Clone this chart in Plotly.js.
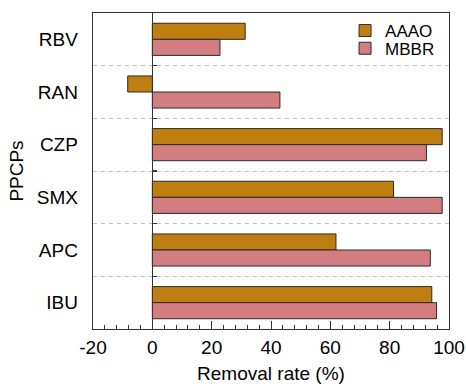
<!DOCTYPE html>
<html><head><meta charset="utf-8">
<script src="https://cdn.plot.ly/plotly-3.0.1.min.js"></script>
<style>html,body{margin:0;padding:0;background:#fff}#chart{width:466px;height:384px}</style>
</head><body><div id="chart"></div>
<script>
const categories = ["RBV", "RAN", "CZP", "SMX", "APC", "IBU"];
const aaao = [31.3, -8.3, 97.7, 81.3, 61.9, 94.2];
const mbbr = [22.8, 43.0, 92.4, 97.7, 93.7, 95.8];
const seriesNames = ["AAAO", "MBBR"];
const boundaryTicks = [0.5, 1.5, 2.5, 3.5, 4.5];
const xTickVals = [-20, 0, 20, 40, 60, 80, 100];
const xTickText = ["-20", "0", "20", "40", "60", "80", "100"];

const font = "Liberation Sans, Arial, sans-serif";
const traces = [
  {type: "bar", orientation: "h", name: seriesNames[0], x: aaao, y: categories, legend: "legend",
   marker: {color: "#bf7f10", line: {color: "#2a2a2a", width: 1}}, hoverinfo: "x+y"},
  {type: "bar", orientation: "h", name: seriesNames[1], x: mbbr, y: categories, legend: "legend2",
   marker: {color: "#d47d80", line: {color: "#2a2a2a", width: 1}}, hoverinfo: "x+y"},
  {type: "scatter", x: [null], y: [null], yaxis: "y2", showlegend: false, hoverinfo: "skip"}
];
const legendCommon = {xanchor: "left", yanchor: "top", bgcolor: "rgba(0,0,0,0)",
                      font: {size: 17, family: font}};
const layout = {
  width: 466, height: 384,
  margin: {l: 93, r: 17, t: 13, b: 55},
  paper_bgcolor: "#fff", plot_bgcolor: "#fff",
  font: {family: font, color: "#000", size: 19},
  barmode: "group", bargap: 0.39, bargroupgap: 0,
  showlegend: true,
  legend: Object.assign({x: 0.708, y: 1.0}, legendCommon),
  legend2: Object.assign({x: 0.708, y: 0.944}, legendCommon),
  xaxis: {range: [-20, 100], tickvals: xTickVals, ticktext: xTickText, ticks: "inside", ticklen: 8, tickwidth: 1,
          tickcolor: "#333", showline: true, linecolor: "#333", linewidth: 1.3, mirror: true,
          showgrid: false, zeroline: true, zerolinecolor: "#333", zerolinewidth: 1,
          tickfont: {size: 19}, ticklabelstandoff: 1,
          minor: {dtick: 4, tick0: 0, ticks: "inside", ticklen: 4, tickcolor: "#333", showgrid: false},
          title: {text: "Removal rate (%)", font: {size: 19}, standoff: 10}},
  yaxis: {type: "category", categoryorder: "array", categoryarray: categories,
          range: [5.5, -0.5], showline: true, linecolor: "#333", linewidth: 1.3, mirror: true,
          showgrid: false, ticks: "", tickfont: {size: 19}, ticklabelstandoff: 10,
          title: {text: "PPCPs", font: {size: 19}, standoff: 8}},
  yaxis2: {overlaying: "y", anchor: "free", side: "left", position: 20/120,
           range: [5.5, -0.5], tickvals: boundaryTicks, showticklabels: false,
           ticks: "inside", ticklen: 4, tickcolor: "#333", tickwidth: 1.3,
           showline: false, showgrid: true, gridcolor: "#c4c4c4", griddash: "4px,4px", gridwidth: 1,
           zeroline: false}
};
Plotly.newPlot("chart", traces, layout, {displayModeBar: false, staticPlot: true});
</script></body></html>
